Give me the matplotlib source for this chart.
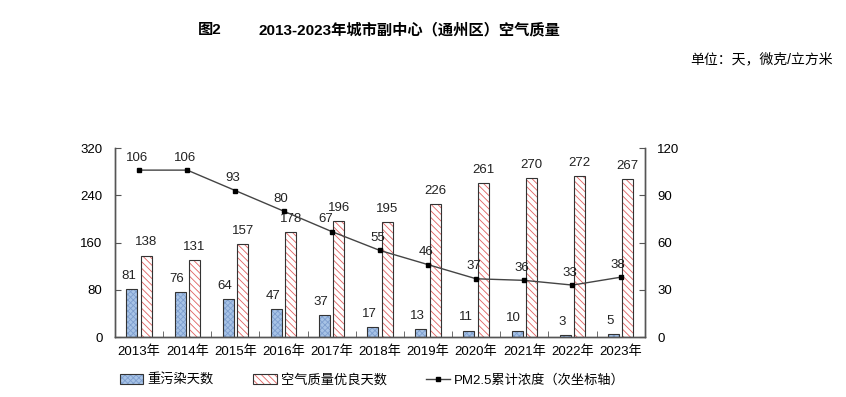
import matplotlib
matplotlib.use("Agg")
import matplotlib.pyplot as plt
import numpy as np

plt.rcParams['font.family'] = ['Liberation Sans', 'Noto Sans CJK SC']
plt.rcParams['hatch.linewidth'] = 0.6

years = ['2013年', '2014年', '2015年', '2016年', '2017年', '2018年',
         '2019年', '2020年', '2021年', '2022年', '2023年']
heavy_days = [81, 76, 64, 47, 37, 17, 13, 11, 10, 3, 5]
good_days = [138, 131, 157, 178, 196, 195, 226, 261, 270, 272, 267]
pm25 = [106, 106, 93, 80, 67, 55, 46, 37, 36, 33, 38]

fig = plt.figure(figsize=(8.46, 3.97), dpi=100)
ax = fig.add_axes([0.136, 0.151, 0.626, 0.476])
ax2 = ax.twinx()

x = np.arange(len(years))
w = 0.23
ax.bar(x - 0.15, heavy_days, w, color='#a7c3e6', edgecolor='#333333',
       linewidth=0.8, hatch='xxxxxx', label='重污染天数')
ax.bar(x + 0.15, good_days, w, color='white', edgecolor='#333333',
       linewidth=0.8, hatch='\\\\\\\\\\', label='空气质量优良天数')
# hatch colours: red for good days, soft blue for heavy days
for p in ax.patches[len(years):]:
    p._hatch_color = matplotlib.colors.to_rgba('#e06060')
for p in ax.patches[:len(years)]:
    p._hatch_color = matplotlib.colors.to_rgba('#7f9fcf')

for i in range(len(years)):
    ax.text(x[i] - 0.22, heavy_days[i] + 12, str(heavy_days[i]), ha='center',
            va='bottom', fontsize=9.5, color='#222222')
    ax.text(x[i] + 0.15, good_days[i] + 12, str(good_days[i]), ha='center',
            va='bottom', fontsize=9.5, color='#222222')

ax2.plot(x, pm25, color='#444444', linewidth=1, marker='s', markersize=3.5,
         markerfacecolor='black', markeredgecolor='black',
         label='PM2.5累计浓度（次坐标轴）')
for i in range(len(years)):
    dx = -0.12 if i == 4 else -0.05
    ax2.text(x[i] + dx, pm25[i] + 4, str(pm25[i]), ha='center', va='bottom',
             fontsize=9.5, color='#222222')

ax.set_xlim(-0.5, len(years) - 0.5)
ax.set_ylim(0, 320)
ax.set_yticks([0, 80, 160, 240, 320])
ax2.set_ylim(0, 120)
ax2.set_yticks([0, 30, 60, 90, 120])
ax.set_xticks(x)
ax.set_xticklabels(years)
ax.set_xticks(np.arange(-0.5, len(years)), minor=True)
ax.tick_params(axis='x', which='major', length=0, labelsize=9.5, pad=6)
ax.tick_params(axis='x', which='minor', direction='in', length=4, color='#555555')
ax.tick_params(axis='y', direction='in', length=4, labelsize=9.5, pad=9, color='#555555')
ax2.tick_params(axis='y', direction='in', length=4, labelsize=9.5, pad=9, color='#555555')

for a in (ax, ax2):
    a.spines['top'].set_visible(False)
    for s in ('left', 'right', 'bottom'):
        a.spines[s].set_color('#555555')
        a.spines[s].set_linewidth(1)

h1, l1 = ax.get_legend_handles_labels()
h2, l2 = ax2.get_legend_handles_labels()
fig.legend(h1 + h2, l1 + l2, loc='center', bbox_to_anchor=(0.44, 0.043), ncol=3,
           frameon=False, fontsize=9.5, handlelength=1.8, handleheight=0.8,
           columnspacing=3.0, handletextpad=0.3)

fig.text(0.234, 0.925, '图2', fontsize=11, fontweight='bold', ha='left', va='center')
fig.text(0.305, 0.925, '2013-2023年城市副中心（通州区）空气质量', fontsize=11,
         fontweight='bold', ha='left', va='center')
fig.text(0.985, 0.85, '单位：天，微克/立方米', fontsize=10, ha='right', va='center')

fig.savefig('out.png', dpi=100)
